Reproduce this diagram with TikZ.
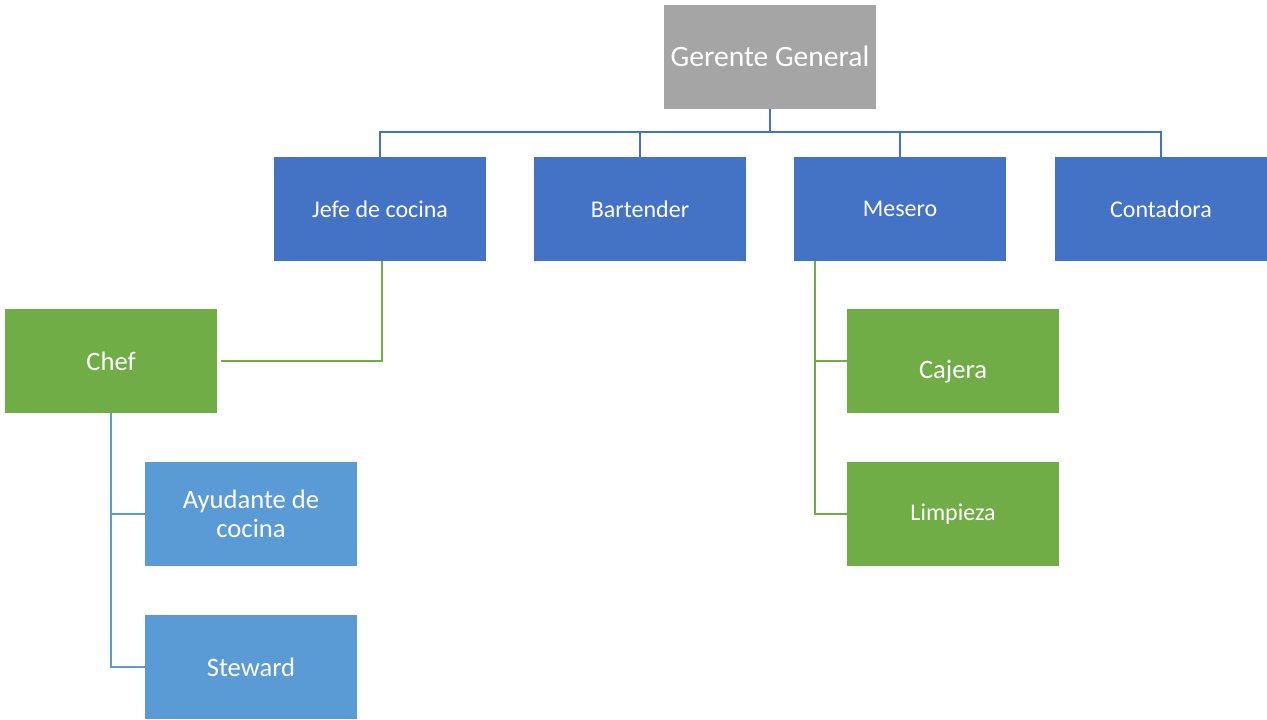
\documentclass[tikz,border=0pt]{standalone}
\usepackage{fontspec}
\setmainfont{Carlito}
\definecolor{jefegris}{HTML}{A5A5A5}
\definecolor{azul}{HTML}{4472C4}
\definecolor{celeste}{HTML}{5B9BD5}
\definecolor{verde}{HTML}{70AD47}
\begin{document}
\begin{tikzpicture}[x=0.5pt,y=-0.5pt,
  box/.style={rectangle,minimum width=106pt,minimum height=52pt,inner sep=0pt,
    text=white,align=center,font=\fontsize{12}{13}\selectfont},
  big/.style={font=\fontsize{13.3}{14.5}\selectfont},
  gray box/.style={box,fill=jefegris,font=\fontsize{14.8}{17}\selectfont},
  blue box/.style={box,fill=azul},
  light box/.style={box,big,fill=celeste},
  green box/.style={box,fill=verde},
  link/.style={line width=1.2pt}]
\useasboundingbox (0,0) rectangle (1267,719);
\node [gray box] (gerente) at (770,56.5) {Gerente General};
\node [blue box] (jefe) at (380,209) {Jefe de cocina};
\node [blue box] (bartender) at (640,209) {Bartender};
\node [blue box] (mesero) at (900,209) {Mesero};
\node [blue box] (contadora) at (1161,209) {Contadora};
\node [green box,big] (chef) at (111,361) {Chef};
\node [light box] (ayudante) at (251,514) {Ayudante de\\cocina};
\node [light box] (steward) at (251,667) {Steward};
\node [green box,big] (cajera) at (953,361) {\raisebox{-5.5pt}[\height][\depth]{Cajera}};
\node [green box] (limpieza) at (953,514) {Limpieza};
% lineas de mando
\coordinate (bus) at (770,132);
\draw [link,azul] (gerente.south) -- (bus);
\draw [link,azul] (jefe.north) |- (bus) -| (contadora.north);
\draw [link,azul] (bartender.north) -- (bartender.north |- bus);
\draw [link,azul] (mesero.north) -- (mesero.north |- bus);
\draw [link,verde] ([xshift=1pt]jefe.south) |- ([xshift=2pt]chef.east);
\draw [link,celeste] (chef.south) |- (steward.west);
\draw [link,celeste] (chef.south |- ayudante.west) -- (ayudante.west);
\coordinate (mes) at (815,261);
\draw [link,verde] (mes) |- (limpieza.west);
\draw [link,verde] (mes |- cajera.west) -- (cajera.west);
\end{tikzpicture}
\end{document}
